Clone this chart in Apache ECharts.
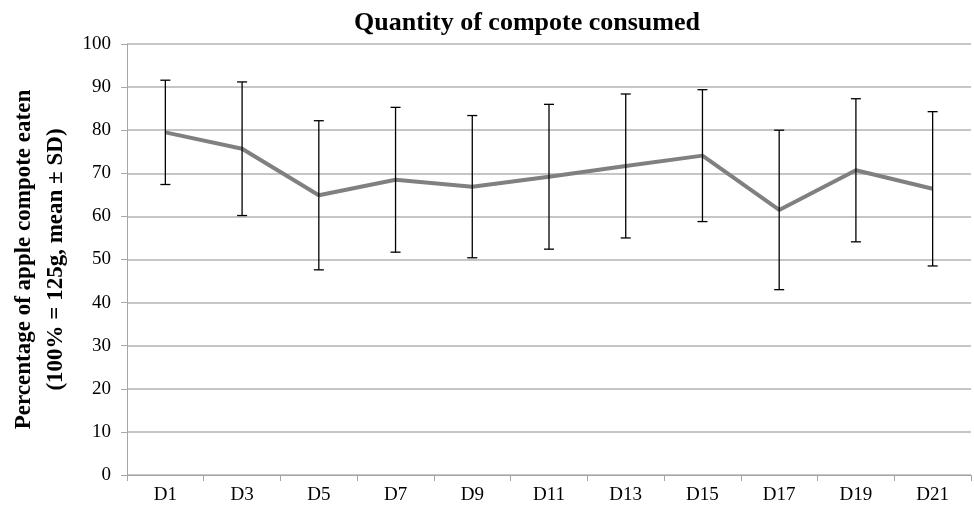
<!DOCTYPE html>
<html><head><meta charset="utf-8">
<script src="https://cdn.jsdelivr.net/npm/echarts@6/dist/echarts.min.js"></script>
<style>html,body{margin:0;padding:0;background:#fff}#c{width:974px;height:507px}</style>
</head><body><div id="c"></div>
<script>
const categories = ['D1','D3','D5','D7','D9','D11','D13','D15','D17','D19','D21'];
const means = [79.5, 75.7, 64.9, 68.5, 66.9, 69.2, 71.7, 74.1, 61.5, 70.7, 66.4];
const sds = [12.1, 15.5, 17.3, 16.8, 16.5, 16.8, 16.7, 15.3, 18.5, 16.6, 17.9];
const yTicks = {min: 0, max: 100, interval: 10};
const titleText = 'Quantity of compote consumed';
const yName = 'Percentage of apple compote eaten\n(100% = 125g, mean ± SD)';

const errData = categories.map((c, i) => [i, means[i] - sds[i], means[i] + sds[i]]);
const chart = echarts.init(document.getElementById('c'), null, {renderer: 'canvas'});
const font = '"Liberation Serif", "Times New Roman", serif';
chart.setOption({
  animation: false,
  title: {text: titleText, left: 522, textAlign: 'center', top: 5,
    textStyle: {fontFamily: font, fontSize: 26, fontWeight: 'bold', color: '#000'}},
  grid: {left: 127, right: 3, top: 44, bottom: 32, containLabel: false, outerBoundsMode: 'none'},
  xAxis: {type: 'category', data: categories, boundaryGap: true,
    axisLine: {lineStyle: {color: '#a6a6a6', width: 1}},
    axisTick: {show: true, alignWithLabel: false, length: 6, lineStyle: {color: '#a6a6a6'}},
    axisLabel: {fontFamily: font, fontSize: 19, color: '#000', margin: 11}},
  yAxis: {type: 'value', min: yTicks.min, max: yTicks.max, interval: yTicks.interval,
    name: yName, nameLocation: 'middle', nameGap: 55, nameRotate: 90,
    nameTextStyle: {fontFamily: font, fontSize: 23, fontWeight: 'bold', color: '#000', lineHeight: 32},
    axisLine: {show: true, lineStyle: {color: '#a6a6a6'}},
    axisTick: {show: true, length: 6, lineStyle: {color: '#a6a6a6'}},
    axisLabel: {fontFamily: font, fontSize: 19, color: '#000', margin: 16},
    splitLine: {lineStyle: {color: '#b3b3b3', width: 1.5}}},
  series: [
    {type: 'line', data: means, symbol: 'none', lineStyle: {color: '#808080', width: 4}, z: 3},
    {type: 'custom', data: errData, z: 4,
      renderItem: function (params, api) {
        const x = api.value(0);
        const lo = api.coord([x, api.value(1)]);
        const hi = api.coord([x, api.value(2)]);
        const cap = 5;
        const st = {stroke: '#000', lineWidth: 1.3};
        return {type: 'group', children: [
          {type: 'line', shape: {x1: lo[0], y1: lo[1], x2: hi[0], y2: hi[1]}, style: st},
          {type: 'line', shape: {x1: lo[0]-cap, y1: lo[1], x2: lo[0]+cap, y2: lo[1]}, style: st},
          {type: 'line', shape: {x1: hi[0]-cap, y1: hi[1], x2: hi[0]+cap, y2: hi[1]}, style: st}
        ]};
      }}
  ]
});
</script></body></html>
